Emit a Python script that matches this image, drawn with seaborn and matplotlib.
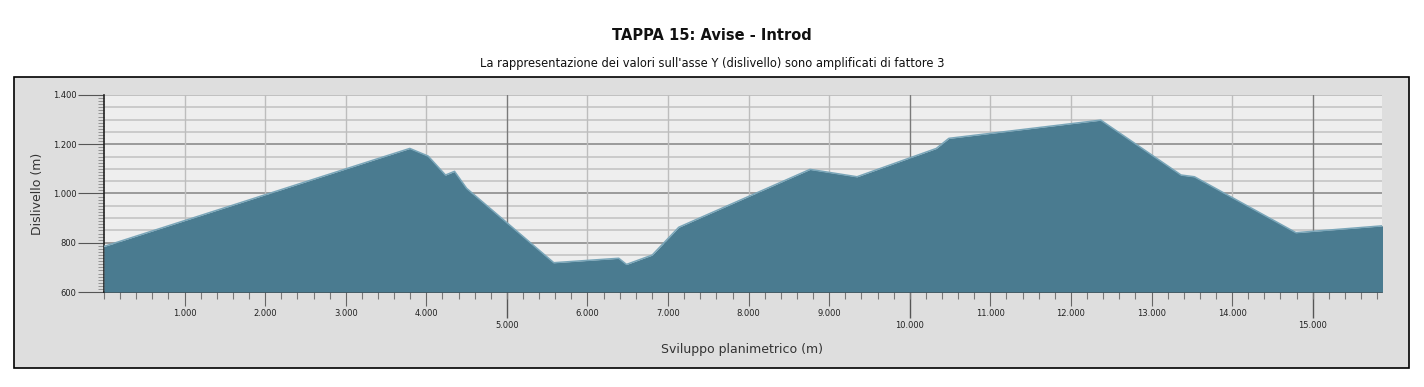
import matplotlib
matplotlib.use("Agg")
import matplotlib.pyplot as plt
import matplotlib.patches as mpatches
from matplotlib.ticker import FuncFormatter, MultipleLocator, FixedLocator
import seaborn as sns
import pandas as pd

# profile points: distance (m) and elevation (m)
distanza = [0, 3430, 3795, 4023, 4238, 4350, 4500, 5582, 6388, 6484, 6803,
            7133, 7402, 8762, 9345, 10329, 10485, 12370, 13367, 13533, 14792, 15875]
quota = [785, 1145, 1183, 1152, 1075, 1090, 1021, 719, 737, 712, 750,
         863, 902, 1098, 1068, 1183, 1224, 1298, 1075, 1068, 841, 869]

minor_x_labels = [1000, 2000, 3000, 4000, 6000, 7000, 8000, 9000,
                  11000, 12000, 13000, 14000]
major_x_labels = [5000, 10000, 15000]
y_labels = [600, 800, 1000, 1200, 1400]

df = pd.DataFrame({"distanza": distanza, "quota": quota})

sns.set_theme(style="white")
plt.rcParams["font.family"] = ["DejaVu Sans"]

fig = plt.figure(figsize=(14.24, 3.87), dpi=100)
W, H = 1424, 387

# grey panel with black frame
panel = mpatches.Rectangle((14 / W, 1 - 368 / H), (1409 - 14) / W, (368 - 77) / H,
                           transform=fig.transFigure, facecolor="#dedede",
                           edgecolor="black", linewidth=1.2, zorder=-5)
fig.add_artist(panel)

fig.text(0.5, 1 - 35 / H, "TAPPA 15: Avise - Introd", ha="center", va="center",
         fontsize=10.5, fontweight="bold", color="#111111")
fig.text(0.5, 1 - 64 / H, "La rappresentazione dei valori sull'asse Y (dislivello) sono amplificati di fattore 3",
         ha="center", va="center", fontsize=8.3, color="#111111")

ax = fig.add_axes([104 / W, 1 - 292 / H, (1382 - 104) / W, (292 - 95) / H])
ax.set_zorder(2)
ax.set_facecolor("#eeeeee")

ax.fill_between(df["distanza"], df["quota"], 600, color="#4a7b90", linewidth=0, zorder=3)
sns.lineplot(data=df, x="distanza", y="quota", ax=ax, color="#7aa6b9", linewidth=1.1,
             zorder=4, sort=False)

ax.set_xlim(0, 15860)
ax.set_ylim(600, 1400)

# grid lines
for yv in range(650, 1400, 50):
    c = "#8c8c8c" if yv % 200 == 0 else "#c4c4c4"
    ax.axhline(yv, color=c, linewidth=1.2, zorder=1)
ax.axhline(1400, color="#b8b8b8", linewidth=1.2, zorder=1)
for xv in range(1000, 16000, 1000):
    c = "#7a7a7a" if xv % 5000 == 0 else "#bdbdbd"
    ax.axvline(xv, color=c, linewidth=1.0, zorder=1)

fmt = FuncFormatter(lambda v, p: f"{int(v):,}".replace(",", "."))

ax.xaxis.set_major_locator(FixedLocator(minor_x_labels))
ax.xaxis.set_minor_locator(MultipleLocator(200))
ax.xaxis.set_major_formatter(fmt)
ax.tick_params(axis="x", which="major", length=10, width=0.8, color="#666666",
               labelsize=6, pad=2, labelcolor="#222222", bottom=True)
ax.tick_params(axis="x", which="minor", length=5, width=0.8, color="#777777", bottom=True)

sec = ax.secondary_xaxis("bottom")
sec.xaxis.set_major_locator(FixedLocator(major_x_labels))
sec.xaxis.set_major_formatter(fmt)
sec.tick_params(axis="x", which="major", length=19, width=1.0, color="#555555",
                labelsize=6, pad=2, labelcolor="#222222")
sec.spines["bottom"].set_visible(False)

ax.yaxis.set_major_locator(FixedLocator(y_labels))
ax.yaxis.set_minor_locator(MultipleLocator(12.5))
ax.yaxis.set_major_formatter(fmt)
ax.tick_params(axis="y", which="major", length=19, width=0.8, color="#555555",
               labelsize=6, pad=1, labelcolor="#222222", left=True)
ax.tick_params(axis="y", which="minor", length=4, width=0.6, color="#888888", left=True)

for s in ["top", "right"]:
    ax.spines[s].set_visible(False)
for s in ["left", "bottom"]:
    ax.spines[s].set_color("#222222")
    ax.spines[s].set_linewidth(1.2)

ax.set_xlabel("")
ax.set_ylabel("")
fig.text(742 / W, 1 - 350 / H, "Sviluppo planimetrico (m)", ha="center", va="center",
         fontsize=9, color="#333333")
fig.text(38 / W, 1 - 194 / H, "Dislivello (m)", ha="center", va="center",
         fontsize=9, color="#333333", rotation=90)

fig.savefig("out.png", dpi=100)
